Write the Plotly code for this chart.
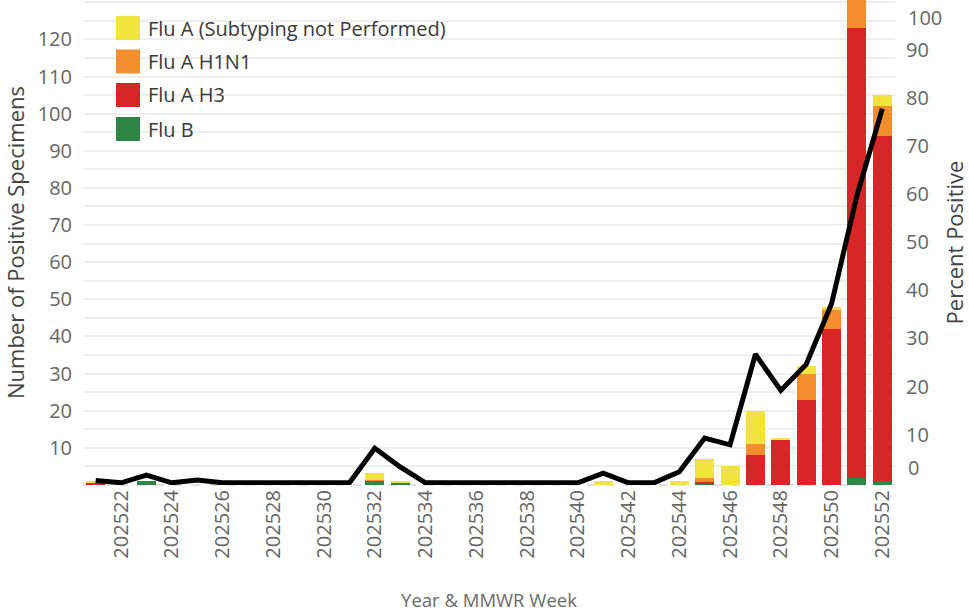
import plotly.graph_objects as go

# ---------------- data ----------------
weeks = ["202521", "202522", "202523", "202524", "202525", "202526", "202527", "202528",
         "202529", "202530", "202531", "202532", "202533", "202534", "202535", "202536",
         "202537", "202538", "202539", "202540", "202541", "202542", "202543", "202544",
         "202545", "202546", "202547", "202548", "202549", "202550", "202551", "202552"]

flu_b = [0, 0, 1, 0, 0, 0, 0, 0, 0, 0, 0, 1.2, 0.6, 0, 0, 0,
         0, 0, 0, 0, 0, 0, 0, 0, 0.5, 0, 0, 0, 0, 0, 2, 1]
flu_a_h3 = [0.6, 0, 0, 0, 0, 0, 0, 0, 0, 0, 0, 0, 0, 0, 0, 0,
            0, 0, 0, 0, 0, 0, 0, 0, 0.4, 0, 8, 12, 23, 42, 121, 93]
flu_a_h1n1 = [0, 0, 0, 0, 0, 0, 0, 0, 0, 0, 0, 0.2, 0, 0, 0, 0,
              0, 0, 0, 0, 0, 0, 0, 0, 1, 0, 3, 0, 7, 5, 8, 8]
flu_a_not_subtyped = [0.5, 0, 0, 0, 0, 0, 0, 0, 0, 0, 0, 1.8, 0.5, 0, 0, 0,
                      0, 0, 0, 0, 1, 0, 0, 1, 5, 5, 9, 0.6, 2, 1, 0, 3]
percent_positive = [0.5, 0, 1.6, 0, 0.6, 0, 0, 0, 0, 0, 0, 7.2, 3.3, 0, 0, 0,
                    0, 0, 0, 0, 2.0, 0, 0, 2.3, 9.3, 7.9, 26.7, 19.2, 24.6, 37.2, 59.7, 77.7]

x_tick_labels = ["202522", "202524", "202526", "202528", "202530", "202532", "202534", "202536",
                 "202538", "202540", "202542", "202544", "202546", "202548", "202550", "202552"]
left_tick_values = [5, 10, 15, 20, 25, 30, 35, 40, 45, 50, 55, 60, 65, 70, 75, 80, 85, 90,
                    95, 100, 105, 110, 115, 120, 125, 130]
right_tick_values = [10, 20, 30, 40, 50, 60, 70, 80, 90]

series_names = ["Flu A (Subtyping not Performed)", "Flu A H1N1", "Flu A H3", "Flu B"]
series_colors = ["#f1e43f", "#f48d2d", "#d62628", "#2e8646"]

# ---------------- figure ----------------
FONT = "Open Sans"
fig = go.Figure()

stack = [("Flu B", flu_b, series_colors[3]),
         ("Flu A H3", flu_a_h3, series_colors[2]),
         ("Flu A H1N1", flu_a_h1n1, series_colors[1]),
         ("Flu A (Subtyping not Performed)", flu_a_not_subtyped, series_colors[0])]
for name, vals, col in stack:
    fig.add_trace(go.Bar(x=weeks, y=vals, name=name, marker=dict(color=col, line=dict(width=0)),
                         showlegend=False, yaxis="y"))

fig.add_trace(go.Scatter(x=weeks, y=percent_positive, name="Percent Positive", mode="lines",
                         line=dict(color="black", width=5), yaxis="y2", showlegend=False))

L, R, T, B = 83, 74, 0, 127
W, H = 969, 612
pw, ph = W - L - R, H - T - B


def px(x):
    return (x - L) / pw


def py(y):
    return (T + ph - y) / ph


shapes = [
    # dashed baseline
    dict(type="line", xref="paper", yref="paper", x0=0, x1=1, y0=0, y1=0,
         line=dict(color="#c4c4c4", width=1, dash="dash"), layer="between"),
    # legend background
    dict(type="rect", xref="paper", yref="paper", x0=px(110), x1=px(490), y0=py(200), y1=py(4),
         fillcolor="white", line=dict(width=0), layer="between"),
]
annotations = []
legend_rows = [28, 61.5, 95, 129]
for name, col, yc in zip(series_names, series_colors, legend_rows):
    shapes.append(dict(type="rect", xref="paper", yref="paper", x0=px(116), x1=px(140),
                       y0=py(yc + 12), y1=py(yc - 12), fillcolor=col, line=dict(width=0),
                       layer="above"))
    annotations.append(dict(text=name, xref="paper", yref="paper", x=px(146), y=py(yc),
                            xanchor="left", yanchor="middle", showarrow=False,
                            font=dict(family=FONT, size=20, color="#3a3a3a")))

# right axis end labels (nudged inside the plot height as in the reference)
for txt, yc in [("100", 18), ("0", 467)]:
    annotations.append(dict(text=txt, xref="paper", yref="paper", x=1, xshift=11, y=py(yc),
                            xanchor="left", yanchor="middle", showarrow=False,
                            font=dict(family=FONT, size=20, color="#666666")))

fig.update_layout(
    width=W, height=H,
    template="none",
    margin=dict(l=L, r=R, t=T, b=B, pad=0),
    paper_bgcolor="white", plot_bgcolor="white",
    barmode="stack", bargap=0.25,
    font=dict(family=FONT, color="#666666"),
    showlegend=False,
    xaxis=dict(type="category", tickmode="array", tickvals=x_tick_labels, ticktext=x_tick_labels,
               tickangle=-90, tickfont=dict(family=FONT, size=20, color="#666666"),
               showgrid=False, showline=False, zeroline=False, ticks="", automargin=False,
               title=dict(text="Year & MMWR Week", font=dict(family=FONT, size=18.5, color="#6b6b6b"),
                          standoff=36),
               range=[-0.5, 31.5]),
    yaxis=dict(range=[0, 130.6], tickmode="array", tickvals=left_tick_values,
               ticktext=[str(v) if (v % 10 == 0 and v != 130) else "" for v in left_tick_values],
               showgrid=True, gridcolor="#efefef", gridwidth=2, zeroline=False, showline=False,
               ticks="", ticklabelstandoff=10, automargin=False,
               tickfont=dict(family=FONT, size=20, color="#666666"),
               title=dict(text="Number of Positive Specimens",
                          font=dict(family=FONT, size=22, color="#444444"), standoff=7)),
    yaxis2=dict(overlaying="y", side="right", range=[-0.45, 100.3], tickmode="array",
                tickvals=right_tick_values, ticktext=[str(v) for v in right_tick_values],
                showgrid=False, zeroline=False, showline=False, ticks="",
                ticklabelstandoff=10, automargin=False,
                tickfont=dict(family=FONT, size=20, color="#666666"),
                title=dict(text="Percent Positive", font=dict(family=FONT, size=22, color="#444444"),
                           standoff=28)),
    shapes=shapes,
    annotations=annotations,
)

fig.write_html("out.html", config={"displayModeBar": False},
               post_script="document.body.style.margin='0';")
